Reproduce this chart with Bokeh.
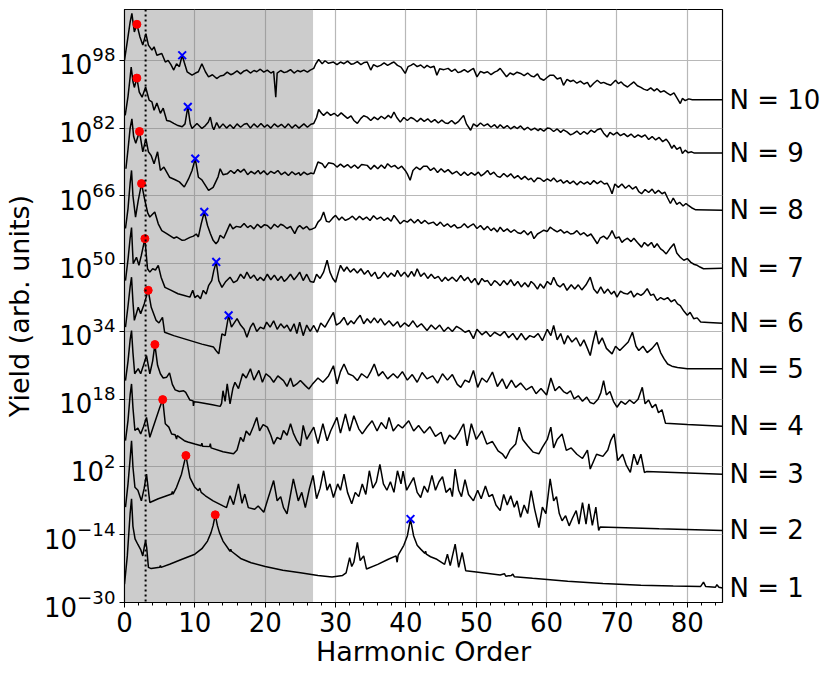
from bokeh.plotting import figure
from bokeh.models import Span, BoxAnnotation, FixedTicker, SingleIntervalTicker, Range1d, LinearAxis, LinearScale
from bokeh.embed import file_html
from bokeh.resources import INLINE

# (harmonic order, log10 yield)
N1 = [(0.0,-25.7),(0.4,-19.0),(0.8,-9.0),(1.0,-5.5),(1.2,-12.0),(1.5,-15.0),(1.9,-16.3),(2.3,-17.5),(2.6,-19.0),(2.85,-16.5),(3.0,-15.4),(3.15,-17.0),(3.4,-21.7),(3.8,-22.0),(5.0,-21.7),(5.1,-21.3),(5.2,-21.7),(6.5,-20.9),(8.0,-19.9),(10.0,-18.6),(11.0,-17.3),(11.8,-15.5),(12.3,-13.5),(12.6,-11.8),(12.9,-9.3),(13.2,-11.8),(13.5,-13.5),(14.0,-15.5),(15.0,-17.9),(15.1,-17.4),(15.2,-17.9),(16.5,-19.6),(18.0,-20.6),(20.0,-21.5),(22.5,-22.4),(25.0,-23.0),(27.5,-23.6),(29.5,-24.0),(31.0,-23.6),(31.5,-23.0),(32.0,-19.4),(32.3,-21.5),(32.6,-20.5),(33.1,-15.8),(33.5,-20.1),(34.0,-19.0),(34.4,-22.1),(36.0,-21.0),(37.5,-19.8),(38.6,-19.0),(38.75,-20.5),(38.9,-18.8),(39.7,-16.5),(40.2,-14.3),(40.65,-10.3),(41.1,-14.3),(41.6,-16.5),(42.1,-17.4),(42.7,-18.4),(42.8,-17.9),(42.9,-18.6),(43.5,-19.2),(44.4,-19.8),(45.5,-21.0),(45.9,-18.6),(46.3,-21.3),(47.0,-16.2),(47.5,-21.7),(48.0,-18.2),(48.5,-22.5),(50.0,-22.8),(53.4,-23.5),(54.0,-23.2),(54.2,-23.8),(55.0,-23.6),(55.2,-23.3),(55.4,-23.9),(58.0,-24.3),(63.0,-25.0),(68.0,-25.5),(73.4,-25.9),(78.0,-26.1),(81.9,-26.2),(82.3,-25.2),(82.6,-26.2),(84.0,-26.4),(84.2,-25.8),(84.5,-26.4),(85.0,-26.6)]

N2 = [(0.14,-7.5),(0.5,-2.0),(0.8,4.0),(1.0,8.2),(1.2,2.0),(1.48,-2.8),(1.9,-3.5),(2.4,-6.0),(2.8,-3.0),(3.13,0.3),(3.6,-6.4),(4.8,-5.5),(6.7,-4.4),(6.8,-3.8),(6.9,-4.4),(7.4,-2.8),(8.1,0.3),(8.73,4.7),(9.3,-0.5),(10.0,-2.8),(10.5,-3.6),(10.7,-3.0),(10.9,-4.0),(11.5,-4.8),(12.6,-6.0),(14.0,-7.2),(14.5,-7.6),(15.0,-4.8),(15.5,-6.9),(16.2,-2.0),(16.7,-6.6),(17.1,-4.4),(17.6,-7.6),(18.5,-8.0),(19.0,-7.2),(19.8,-8.7),(20.3,-6.0),(21.2,-1.2),(21.7,-6.0),(22.2,-5.0),(22.6,-7.6),(23.1,-9.1),(24.0,-0.8),(24.7,-6.0),(25.2,-4.0),(25.7,-7.6),(26.3,-3.0),(26.8,0.0),(27.3,-5.5),(27.8,-3.0),(28.3,1.1),(28.8,-3.5),(29.2,-2.0),(29.7,-5.2),(30.3,-2.0),(30.7,-3.5),(31.2,0.3),(31.7,-4.0),(32.3,-6.7),(32.8,-4.0),(33.3,-5.0),(33.8,-2.0),(34.3,-4.5),(34.8,1.1),(35.3,-3.0),(35.8,-1.5),(36.3,2.6),(36.8,-2.0),(37.3,-3.5),(37.8,-1.5),(38.3,-4.0),(38.8,1.1),(39.3,-2.0),(39.6,1.0),(40.1,-3.5),(40.6,-2.0),(41.1,-0.5),(41.6,-4.0),(42.1,-5.2),(42.6,-2.5),(43.1,-4.0),(43.7,0.0),(44.2,-3.5),(44.7,-1.5),(45.2,-0.3),(45.7,-4.0),(46.3,-3.0),(46.6,-5.0),(47.0,1.5),(47.5,-3.5),(47.9,-5.0),(48.4,-1.0),(48.9,-4.5),(49.6,-6.0),(50.2,-3.5),(50.7,-5.5),(51.3,-2.5),(51.8,-5.0),(52.3,-4.5),(52.8,-7.0),(53.4,-8.3),(53.9,-4.5),(54.4,-7.0),(54.9,-4.8),(55.4,-7.5),(55.8,-6.0),(56.3,-9.9),(56.8,-7.0),(57.3,-9.0),(57.8,-3.6),(58.3,-8.0),(58.9,-12.3),(59.4,-7.5),(59.9,-9.0),(60.5,-0.8),(61.0,-6.0),(61.4,-5.0),(61.8,-9.0),(62.2,-10.7),(62.7,-9.5),(63.2,-11.9),(63.7,-10.0),(64.2,-8.3),(64.6,-11.5),(65.1,-6.4),(65.6,-11.5),(66.0,-6.7),(66.5,-11.8),(67.0,-7.5),(67.4,-13.0),(67.6,-12.2),(76.0,-12.6),(85.0,-13.0)]

N3 = [(0.14,8.2),(0.5,13.0),(0.8,19.0),(1.0,21.6),(1.2,16.0),(1.48,10.6),(1.9,11.2),(2.3,9.8),(2.7,11.5),(3.13,13.7),(3.6,9.0),(4.0,11.0),(4.5,13.5),(5.0,16.0),(5.43,17.9),(5.8,12.2),(6.3,11.4),(6.7,9.8),(7.2,9.6),(7.4,8.6),(7.5,9.4),(8.5,8.2),(9.0,7.9),(10.0,7.4),(10.9,7.0),(11.0,7.6),(11.1,6.9),(12.1,6.8),(12.2,7.5),(12.3,6.5),(14.0,5.6),(15.5,5.1),(16.0,6.0),(16.5,9.0),(16.9,8.0),(17.3,10.5),(17.8,9.5),(18.3,11.5),(18.8,13.7),(19.2,10.5),(19.7,12.0),(20.3,11.4),(20.8,9.5),(21.2,7.4),(21.7,9.0),(22.2,8.5),(22.6,10.6),(23.1,9.5),(23.6,12.2),(24.0,10.0),(24.5,8.2),(25.0,7.0),(25.4,11.8),(25.9,8.5),(26.4,10.0),(26.9,11.4),(27.5,7.5),(28.2,12.2),(28.8,8.2),(29.3,10.5),(30.2,13.7),(30.7,10.0),(31.4,14.5),(32.0,10.5),(32.6,14.1),(33.3,11.0),(33.8,9.8),(34.5,11.5),(35.2,12.9),(35.9,10.5),(36.5,12.5),(37.2,11.0),(37.6,13.7),(38.2,10.5),(38.9,12.0),(39.5,11.2),(40.4,12.9),(41.1,10.5),(41.8,11.8),(42.6,10.0),(43.4,11.5),(44.2,9.2),(45.0,10.2),(45.5,7.4),(46.2,9.5),(46.9,8.5),(47.5,10.0),(48.2,12.2),(48.7,7.0),(49.3,12.2),(50.0,8.5),(50.8,10.5),(51.5,7.4),(52.3,8.0),(53.1,5.8),(53.7,5.1),(54.2,4.0),(54.8,6.0),(55.6,7.4),(56.1,11.4),(56.6,8.5),(57.3,7.0),(58.1,5.5),(58.9,5.1),(59.4,6.6),(60.1,8.5),(60.6,11.4),(61.0,6.5),(61.5,8.5),(62.2,9.8),(62.8,5.9),(63.5,6.5),(64.3,5.0),(65.1,4.0),(65.8,6.0),(66.2,1.5),(67.1,5.0),(68.0,4.5),(68.7,6.0),(69.1,8.2),(69.6,9.8),(70.1,3.5),(70.8,5.0),(71.3,2.5),(71.9,0.7),(72.4,5.0),(72.9,2.5),(73.4,5.0),(73.9,0.7),(74.2,0.9),(85.0,0.3)]

N4 = [(0.14,22.4),(0.5,27.0),(0.8,32.0),(1.0,34.2),(1.2,29.0),(1.45,24.0),(1.95,25.2),(2.3,24.0),(2.7,26.0),(3.13,28.3),(3.6,24.0),(4.0,27.0),(4.32,30.9),(4.7,26.0),(5.1,24.0),(5.5,23.0),(6.0,23.2),(6.4,24.2),(6.8,21.5),(7.2,20.2),(7.8,19.8),(8.4,20.0),(8.7,19.6),(9.3,17.8),(9.75,17.6),(9.8,16.4),(9.9,17.4),(10.5,17.3),(11.5,17.0),(12.5,16.7),(13.6,16.3),(13.8,17.0),(14.0,20.0),(14.3,17.5),(14.6,21.6),(15.0,16.9),(15.4,20.5),(15.7,22.0),(16.2,20.5),(16.8,24.0),(17.3,23.0),(17.9,25.2),(18.4,22.5),(19.1,24.8),(19.6,22.0),(20.1,24.0),(20.7,23.2),(21.2,22.0),(21.8,23.5),(22.6,22.4),(23.1,21.0),(23.6,23.0),(24.0,21.0),(24.5,21.6),(25.0,22.4),(25.7,21.2),(26.2,20.4),(26.7,21.5),(27.5,23.0),(28.2,22.0),(29.0,23.5),(29.7,25.9),(30.2,21.6),(30.7,24.5),(31.2,26.3),(31.8,24.0),(32.5,23.5),(33.1,22.4),(33.7,24.0),(34.5,23.0),(35.0,24.5),(35.5,26.3),(36.1,23.5),(36.7,24.5),(37.4,22.8),(38.2,24.0),(38.8,23.0),(39.5,24.5),(40.2,22.5),(40.9,23.8),(41.6,22.0),(42.3,24.3),(43.0,22.8),(43.8,23.5),(44.5,21.8),(45.2,24.0),(45.9,22.5),(46.6,23.8),(47.3,21.5),(47.8,20.8),(48.4,22.5),(49.0,22.0),(49.6,24.8),(50.2,20.8),(50.8,23.0),(51.5,22.0),(52.3,24.4),(53.0,21.0),(53.7,22.8),(54.3,20.5),(55.0,22.5),(55.6,20.8),(56.3,21.8),(57.1,20.2),(57.9,21.0),(58.5,19.3),(59.2,20.5),(60.0,19.0),(60.6,23.0),(61.2,20.0),(61.8,21.0),(62.4,19.8),(62.9,19.3),(63.4,20.0),(63.9,18.1),(64.5,18.8),(65.1,17.5),(65.7,18.5),(66.2,17.2),(66.7,16.9),(67.3,18.0),(67.7,19.5),(68.1,22.4),(68.5,19.0),(69.0,19.8),(69.5,17.5),(70.0,16.1),(70.6,17.5),(71.2,16.8),(71.8,17.8),(72.4,17.0),(73.0,18.0),(73.6,20.8),(74.0,16.9),(74.5,17.8),(75.0,16.0),(75.5,16.8),(75.9,14.8),(76.4,15.5),(76.9,12.3),(80.0,12.0),(85.0,11.6)]

N5 = [(0.14,35.0),(0.5,40.0),(0.8,44.5),(1.0,46.8),(1.2,41.0),(1.4,36.6),(1.95,39.7),(2.3,38.2),(2.8,40.5),(3.37,43.7),(3.8,39.7),(4.5,36.6),(4.9,36.0),(5.4,37.3),(5.7,33.8),(7.0,33.0),(9.0,32.0),(11.0,31.0),(12.66,30.3),(13.0,29.5),(13.4,28.7),(13.85,33.4),(14.3,33.0),(14.8,37.8),(15.2,35.0),(15.6,36.0),(16.0,37.0),(16.5,35.5),(17.0,34.5),(17.4,32.6),(17.9,35.0),(18.3,36.0),(18.8,34.0),(19.3,35.0),(19.8,34.6),(20.2,36.2),(20.7,35.0),(21.2,36.5),(21.7,34.5),(22.2,35.8),(22.7,34.8),(23.1,35.5),(23.6,34.0),(24.1,35.8),(24.5,33.5),(24.9,36.2),(25.4,33.0),(25.9,35.5),(26.4,34.0),(26.9,35.4),(27.4,33.8),(27.9,36.0),(28.5,35.0),(29.0,36.5),(29.7,38.5),(30.1,35.5),(30.6,36.0),(31.2,37.3),(31.7,35.5),(32.2,36.5),(32.6,35.8),(33.0,36.8),(33.5,37.8),(34.0,35.8),(34.5,37.0),(35.0,36.0),(35.5,37.2),(36.0,36.0),(36.4,37.0),(37.0,35.5),(37.6,36.5),(38.2,35.3),(38.8,36.3),(39.2,35.0),(39.8,36.0),(40.4,35.2),(41.0,36.5),(41.6,35.0),(42.2,35.8),(43.0,34.2),(43.6,35.5),(44.2,34.5),(44.8,35.5),(45.4,34.0),(46.0,35.0),(46.6,34.0),(47.2,35.2),(47.8,34.6),(48.4,33.8),(49.0,34.2),(49.6,32.3),(50.1,34.5),(50.8,33.2),(51.4,34.0),(52.0,32.8),(52.6,33.8),(53.4,33.0),(54.0,34.0),(54.6,32.5),(55.2,33.5),(55.8,32.0),(56.4,33.5),(57.0,32.0),(57.6,33.0),(58.2,32.6),(58.8,33.5),(59.4,31.8),(60.1,34.5),(60.6,33.0),(61.0,35.4),(61.5,32.0),(62.0,33.5),(62.5,31.0),(63.0,33.0),(63.6,31.5),(64.2,32.5),(64.8,30.5),(65.3,32.0),(65.8,30.0),(66.2,28.3),(66.6,31.5),(67.0,34.2),(67.4,31.0),(67.9,32.5),(68.5,30.0),(69.3,28.7),(69.8,30.5),(70.4,29.5),(71.0,30.5),(71.6,31.5),(72.2,33.8),(72.7,30.5),(73.1,29.5),(73.7,30.5),(74.3,29.0),(75.0,30.0),(75.7,31.4),(76.2,29.0),(76.7,27.5),(77.2,26.3),(77.8,25.8),(78.6,25.5),(80.0,25.2),(85.0,25.2)]

N6 = [(0.14,46.0),(0.5,51.0),(0.8,56.0),(1.0,58.5),(1.15,53.0),(1.24,50.0),(1.7,51.5),(2.05,49.6),(2.4,52.0),(2.9,55.9),(3.27,48.8),(3.6,48.0),(4.0,48.8),(4.4,48.5),(4.8,49.6),(5.2,46.8),(5.75,44.4),(6.5,43.8),(7.6,42.9),(8.5,42.5),(9.3,42.1),(9.7,43.7),(10.0,42.0),(10.4,42.5),(10.8,41.7),(11.2,43.7),(11.6,42.8),(11.95,44.8),(12.4,46.0),(12.7,48.4),(13.04,50.4),(13.4,46.0),(13.85,44.4),(14.4,45.8),(15.0,46.8),(15.5,45.5),(16.0,46.0),(16.5,47.5),(17.0,46.5),(17.4,48.0),(17.9,46.5),(18.4,47.3),(18.9,46.0),(19.3,46.8),(19.8,46.0),(20.3,47.5),(20.8,46.2),(21.3,47.3),(21.8,46.0),(22.3,47.0),(22.7,45.8),(23.1,46.4),(23.6,47.5),(24.1,46.2),(24.5,47.0),(24.9,48.0),(25.4,46.0),(25.9,47.5),(26.4,45.8),(26.9,45.6),(27.3,47.5),(27.8,46.5),(28.3,48.0),(28.8,50.8),(29.2,48.0),(29.6,46.5),(30.0,45.6),(30.4,48.0),(30.7,49.6),(31.2,48.2),(31.6,49.2),(32.1,48.0),(32.6,48.8),(33.1,47.8),(33.6,48.8),(34.1,47.5),(34.6,48.4),(35.1,47.0),(35.6,48.0),(36.0,46.5),(36.4,46.8),(36.9,48.0),(37.4,46.8),(37.9,47.8),(38.4,47.0),(38.8,48.4),(39.3,47.0),(39.8,48.0),(40.3,46.8),(40.8,48.2),(41.2,47.0),(41.6,48.8),(42.1,47.0),(42.6,47.8),(43.1,46.5),(43.6,47.5),(44.1,46.5),(44.6,47.0),(45.1,45.8),(45.6,46.8),(46.0,46.0),(46.6,46.8),(47.2,45.8),(47.8,47.2),(48.3,46.0),(48.8,46.8),(49.3,45.5),(49.8,46.5),(50.3,45.0),(50.8,46.5),(51.2,45.8),(51.6,46.0),(52.1,44.8),(52.6,46.0),(53.0,45.5),(53.4,44.8),(53.9,46.0),(54.4,45.0),(54.9,46.2),(55.4,44.8),(55.9,45.8),(56.4,44.5),(56.9,45.5),(57.4,44.5),(57.8,45.8),(58.2,45.2),(58.7,44.0),(59.1,45.2),(59.6,44.2),(60.1,45.8),(60.6,45.0),(61.0,46.8),(61.5,45.0),(61.9,44.5),(62.4,45.3),(62.9,43.7),(63.5,45.0),(64.0,44.0),(64.5,45.0),(65.0,43.8),(65.6,45.0),(66.2,46.8),(66.7,44.0),(67.2,43.0),(67.7,44.5),(68.2,43.0),(68.7,44.0),(69.2,42.8),(69.6,43.5),(70.0,42.1),(70.5,43.5),(71.0,43.0),(71.5,42.8),(72.0,43.5),(72.4,42.1),(72.9,43.0),(73.4,42.5),(73.8,43.0),(74.3,44.1),(74.8,42.5),(75.2,42.8),(75.7,41.3),(76.2,42.0),(76.7,41.5),(77.2,42.0),(77.7,41.0),(78.2,41.5),(78.6,40.5),(79.0,40.1),(79.5,38.8),(80.0,37.8),(80.4,38.5),(80.9,37.0),(81.4,37.2),(81.9,36.2),(83.0,36.1),(85.0,35.9)]

N7 = [(0.14,58.3),(0.5,63.0),(0.8,69.0),(1.0,72.0),(1.2,66.0),(1.57,61.0),(1.95,64.9),(2.42,68.9),(2.9,64.9),(3.3,62.0),(3.6,61.0),(4.3,62.2),(4.8,59.4),(5.3,57.8),(6.0,57.1),(7.0,56.0),(7.4,56.3),(8.2,55.5),(8.6,55.6),(9.3,56.2),(9.8,56.5),(10.2,57.0),(10.5,56.3),(10.9,59.4),(11.34,62.2),(11.8,59.0),(12.2,57.1),(12.6,55.5),(13.0,54.7),(13.3,55.3),(13.6,56.7),(14.1,56.0),(14.5,57.5),(15.0,59.4),(15.4,58.2),(15.9,58.8),(16.5,58.6),(17.0,59.5),(17.5,58.5),(17.9,59.0),(18.4,58.2),(18.9,59.3),(19.4,58.5),(19.9,59.2),(20.3,59.0),(20.8,58.2),(21.3,59.3),(21.8,58.6),(22.2,59.3),(22.6,59.0),(23.1,58.3),(23.6,58.8),(24.2,57.1),(24.6,58.5),(24.9,59.0),(25.4,58.2),(25.9,58.8),(26.3,58.0),(26.7,58.2),(27.1,58.5),(27.5,59.8),(27.9,60.5),(28.3,62.2),(28.7,60.0),(29.1,59.8),(29.6,60.8),(30.0,61.4),(30.5,60.3),(30.9,61.0),(31.4,60.2),(31.9,60.6),(32.4,61.2),(32.9,60.3),(33.4,61.2),(33.9,60.4),(34.4,61.0),(34.9,60.2),(35.4,61.3),(35.9,60.5),(36.4,61.0),(36.9,60.2),(37.4,60.8),(37.9,60.0),(38.3,61.4),(38.8,60.3),(39.2,59.4),(39.7,60.2),(40.2,59.8),(40.7,60.5),(41.2,59.6),(41.7,60.4),(42.2,59.5),(42.7,60.2),(43.2,59.4),(43.9,59.8),(44.4,59.0),(44.9,59.8),(45.4,58.8),(45.9,59.4),(46.4,58.6),(46.9,59.2),(47.3,58.4),(47.8,58.6),(48.3,59.4),(48.8,58.5),(49.2,59.0),(49.6,59.4),(50.1,58.3),(50.6,59.0),(51.1,58.0),(51.6,58.8),(52.1,57.8),(52.5,58.4),(53.0,57.5),(53.4,58.6),(53.9,57.6),(54.4,58.2),(54.9,57.4),(55.4,58.0),(55.9,57.3),(56.3,57.1),(56.8,57.8),(57.3,56.8),(57.8,57.6),(58.2,55.9),(58.7,57.0),(59.1,57.4),(59.6,57.9),(60.1,57.6),(60.5,58.6),(61.0,58.0),(61.5,57.5),(62.0,58.0),(62.5,57.2),(62.9,57.6),(63.4,57.0),(63.8,57.1),(64.3,57.8),(64.8,56.8),(65.3,57.3),(65.8,56.5),(66.3,57.0),(66.7,56.0),(67.2,54.7),(67.6,56.0),(68.1,56.5),(68.6,55.8),(69.0,56.8),(69.3,57.8),(69.8,56.0),(70.3,56.3),(70.7,55.0),(71.0,55.5),(71.5,56.0),(72.0,55.2),(72.4,56.0),(72.9,55.0),(73.5,53.9),(73.9,55.0),(74.4,54.2),(74.9,55.0),(75.3,53.8),(75.7,54.7),(76.2,53.5),(76.6,53.0),(77.0,52.3),(77.5,53.5),(78.1,54.7),(78.5,52.5),(79.0,51.5),(79.5,50.8),(80.0,51.2),(80.5,50.3),(81.0,49.8),(81.4,49.6),(81.8,49.2),(82.3,48.8),(85.0,48.9)]

N8 = [(0.2,72.4),(0.5,77.0),(0.8,82.0),(1.05,84.2),(1.3,80.0),(1.6,78.4),(2.13,81.2),(2.6,76.4),(3.04,79.5),(3.4,76.4),(3.8,75.5),(4.2,73.6),(4.7,76.4),(5.1,72.0),(5.6,72.8),(6.4,70.4),(7.2,69.8),(7.8,69.3),(8.5,68.1),(9.1,70.0),(9.6,72.0),(10.06,74.8),(10.5,70.4),(11.0,69.8),(11.95,67.3),(12.6,68.0),(13.3,70.5),(13.6,72.4),(14.0,71.0),(14.6,71.2),(15.1,72.0),(15.6,71.3),(16.1,72.2),(16.5,71.6),(17.0,72.3),(17.5,71.0),(18.0,71.8),(18.5,71.2),(19.0,72.0),(19.3,71.2),(19.8,71.9),(20.3,71.0),(20.8,71.8),(21.3,71.3),(21.8,72.0),(22.3,71.0),(22.8,71.6),(23.3,70.8),(23.8,71.7),(24.3,71.0),(24.8,71.5),(25.0,70.8),(25.5,71.6),(26.0,71.0),(26.5,71.4),(26.9,71.2),(27.5,74.0),(28.1,73.6),(28.5,72.6),(29.0,73.8),(29.7,73.6),(30.2,72.8),(30.7,73.5),(31.2,72.8),(31.7,73.4),(32.2,72.6),(32.7,73.3),(33.2,72.5),(33.7,73.4),(34.5,73.2),(35.0,72.3),(35.5,73.2),(36.0,72.4),(36.5,73.3),(37.0,72.5),(37.4,73.6),(37.9,72.8),(38.4,73.2),(38.9,72.4),(39.4,73.0),(39.9,72.0),(40.2,71.2),(40.6,69.7),(41.0,72.0),(41.5,72.8),(42.0,72.2),(42.5,73.0),(43.0,73.0),(43.5,72.0),(44.0,72.6),(44.5,71.5),(45.0,72.4),(45.5,71.6),(46.0,72.2),(46.6,71.2),(47.2,71.8),(47.8,70.8),(48.3,71.6),(48.8,70.8),(49.3,71.5),(49.8,70.9),(50.3,71.6),(50.7,70.7),(51.1,71.2),(51.6,72.0),(52.0,71.0),(52.5,71.6),(53.0,70.6),(53.4,70.4),(53.9,71.3),(54.4,70.5),(54.9,71.2),(55.4,70.2),(55.9,70.8),(56.4,69.9),(56.9,70.6),(57.4,69.8),(57.8,70.2),(58.2,69.3),(58.7,70.2),(59.1,70.1),(59.6,69.4),(60.1,70.0),(60.6,69.5),(61.0,70.2),(61.5,69.3),(62.0,69.8),(62.4,69.0),(62.9,69.6),(63.3,68.9),(63.8,69.5),(64.3,68.6),(64.8,69.4),(65.3,68.8),(65.8,69.3),(66.2,68.7),(66.7,69.6),(67.2,68.9),(67.7,69.5),(68.2,68.8),(68.6,69.0),(69.0,67.8),(69.3,66.5),(69.7,68.8),(70.2,68.0),(70.7,68.8),(71.2,67.8),(71.7,68.5),(72.2,67.6),(72.7,68.2),(73.1,67.0),(73.5,66.5),(74.0,67.5),(74.5,66.8),(75.0,67.6),(75.4,66.6),(75.9,67.3),(76.4,66.5),(76.8,66.9),(77.2,65.5),(77.6,64.2),(78.0,65.5),(78.5,64.0),(78.9,64.5),(79.4,63.6),(79.8,64.2),(80.1,63.8),(80.6,63.2),(81.2,62.7),(85.0,62.6)]

N9 = [(0.1,85.0),(0.5,89.5),(0.8,94.0),(0.95,96.4),(1.2,93.0),(1.4,91.6),(1.76,93.8),(2.1,90.5),(2.5,89.3),(3.0,91.7),(3.5,88.6),(3.9,88.2),(4.2,86.2),(4.6,87.9),(5.1,85.5),(5.5,86.7),(6.0,83.8),(6.5,83.6),(7.0,83.1),(7.6,82.6),(8.2,82.3),(8.6,83.0),(9.0,87.0),(9.35,83.0),(9.6,81.9),(10.3,83.1),(11.0,81.9),(11.5,82.6),(11.9,83.4),(12.2,84.6),(12.5,82.3),(12.7,81.6),(13.1,83.3),(13.5,82.0),(14.0,83.0),(14.5,82.0),(15.0,82.8),(15.5,81.9),(16.0,83.0),(16.5,82.2),(17.0,82.9),(17.4,83.1),(17.9,82.0),(18.4,83.0),(18.9,82.2),(19.4,83.1),(19.9,82.2),(20.3,82.8),(20.8,82.0),(21.3,83.0),(21.8,82.3),(22.3,82.9),(22.8,82.1),(23.3,83.0),(23.8,82.0),(24.3,82.8),(24.8,82.0),(25.0,82.3),(25.5,83.0),(26.0,82.2),(26.5,82.9),(26.9,83.1),(27.3,84.5),(27.6,86.4),(28.0,85.5),(28.3,85.0),(28.8,85.8),(29.3,85.0),(29.8,85.5),(30.3,84.8),(30.8,85.6),(31.2,85.0),(31.7,84.3),(32.2,84.9),(32.6,83.8),(33.1,83.1),(33.6,84.3),(34.0,84.9),(34.5,84.6),(35.0,83.8),(35.5,84.6),(36.0,84.0),(36.5,84.8),(37.0,84.2),(37.5,85.0),(37.9,84.4),(38.3,85.8),(38.7,84.5),(39.2,83.4),(39.7,84.5),(40.2,83.8),(40.7,84.5),(41.1,84.2),(41.6,83.5),(42.1,84.3),(42.6,83.6),(43.1,84.2),(43.6,83.4),(44.1,84.0),(44.6,83.2),(45.1,83.9),(45.6,83.2),(46.0,83.1),(46.5,83.8),(47.0,83.0),(47.5,83.6),(48.2,85.0),(48.6,83.0),(49.2,81.5),(49.6,83.0),(50.1,82.4),(50.6,83.2),(51.1,82.5),(51.6,83.0),(52.1,82.2),(52.6,82.8),(53.0,82.0),(53.4,82.8),(53.9,82.0),(54.4,82.6),(54.9,81.8),(55.4,82.4),(55.8,81.9),(56.3,82.5),(56.8,81.6),(57.3,82.2),(57.8,81.5),(58.3,82.0),(58.8,81.4),(59.1,81.9),(59.6,81.3),(60.1,82.0),(60.5,81.9),(61.0,81.2),(61.5,81.8),(62.0,81.0),(62.4,81.6),(62.9,81.1),(63.4,80.4),(63.8,80.7),(64.3,81.3),(64.8,80.5),(65.3,81.2),(65.8,80.6),(66.3,81.5),(66.8,81.0),(67.2,81.6),(67.7,81.9),(68.1,80.8),(68.6,79.9),(69.0,81.0),(69.5,80.4),(70.0,81.0),(70.5,80.2),(71.0,80.7),(71.5,80.0),(72.0,80.6),(72.5,79.8),(73.0,80.4),(73.5,79.9),(74.0,80.4),(74.5,79.3),(75.0,80.0),(75.5,79.2),(76.0,79.8),(76.5,78.8),(77.0,79.4),(77.4,78.5),(77.8,77.2),(78.1,78.0),(78.5,77.0),(79.0,77.5),(79.3,76.0),(79.7,76.8),(80.1,76.2),(80.6,76.4),(81.0,76.1),(85.0,76.1)]

N10 = [(0.0,98.0),(0.4,102.5),(0.8,107.0),(1.05,109.1),(1.25,106.5),(1.4,104.7),(1.76,106.5),(2.2,103.5),(2.6,101.6),(3.04,104.3),(3.4,101.6),(3.9,100.4),(4.2,101.2),(4.6,99.2),(5.3,99.6),(5.8,97.6),(6.2,98.0),(6.6,97.0),(7.0,95.7),(7.4,97.2),(7.8,96.5),(8.2,99.2),(8.5,97.5),(8.9,95.3),(9.6,94.5),(10.1,95.0),(10.5,95.3),(11.0,97.2),(11.5,95.3),(11.95,94.1),(12.5,94.6),(13.1,93.7),(13.6,94.3),(14.1,94.5),(14.6,95.2),(15.1,94.6),(15.5,94.9),(16.0,95.5),(16.5,94.8),(17.0,95.5),(17.4,95.7),(17.9,95.0),(18.4,95.6),(18.8,95.3),(19.3,95.9),(19.8,95.2),(20.3,95.7),(20.8,95.0),(21.2,95.4),(21.5,89.3),(21.7,95.0),(22.2,95.6),(22.7,95.1),(23.1,95.3),(23.6,95.8),(24.1,95.0),(24.6,95.6),(25.0,95.3),(25.5,95.7),(26.0,95.2),(26.4,95.7),(26.9,96.1),(27.2,97.2),(27.6,98.2),(28.1,97.2),(28.5,97.9),(29.0,97.3),(29.7,97.6),(30.2,97.0),(30.7,97.6),(31.2,97.2),(31.7,97.8),(32.2,97.1),(32.6,97.2),(33.1,97.7),(33.6,97.0),(34.1,97.5),(34.5,97.6),(35.0,95.7),(35.4,97.0),(35.9,96.5),(36.4,96.8),(36.9,97.4),(37.4,96.8),(37.9,97.3),(38.3,97.6),(38.8,96.8),(39.3,96.4),(39.9,94.9),(40.3,96.5),(40.7,96.8),(41.1,97.2),(41.6,96.5),(42.1,96.9),(42.6,96.2),(43.0,96.8),(43.5,96.3),(44.0,96.6),(44.4,94.5),(44.8,96.0),(45.4,95.8),(46.0,96.1),(46.5,95.4),(47.0,95.9),(47.4,95.1),(47.8,95.3),(48.3,95.8),(48.8,95.2),(49.2,95.7),(49.6,96.1),(50.1,94.1),(50.6,95.4),(51.1,95.0),(51.6,95.3),(52.1,94.6),(52.6,95.2),(53.0,95.5),(53.4,96.1),(53.9,95.0),(54.3,94.1),(54.8,95.0),(55.3,94.6),(55.8,95.2),(56.3,94.9),(56.8,94.4),(57.3,95.0),(57.8,94.3),(58.2,94.1),(58.7,94.8),(59.1,93.7),(59.6,93.3),(60.1,94.0),(60.5,94.5),(61.0,94.5),(61.5,93.6),(62.0,93.9),(62.4,92.1),(62.9,93.5),(63.4,93.0),(63.8,93.3),(64.3,92.6),(64.8,93.1),(65.3,92.4),(65.8,92.8),(66.2,91.7),(66.7,92.6),(67.2,93.3),(67.7,92.6),(68.1,92.8),(68.6,92.4),(69.1,92.1),(69.8,93.3),(70.2,92.5),(70.6,92.9),(71.0,92.2),(71.5,91.7),(72.0,92.4),(72.4,92.9),(72.9,92.0),(73.4,91.6),(73.8,91.2),(74.3,90.9),(74.8,91.5),(75.3,90.8),(75.7,91.3),(76.2,90.5),(76.7,90.8),(77.1,90.3),(77.6,89.8),(78.1,90.3),(78.5,89.2),(79.0,87.8),(79.3,89.0),(79.7,88.5),(80.2,88.9),(80.7,88.7),(85.0,88.7)]

spectra = [(1, N1), (2, N2), (3, N3), (4, N4), (5, N5), (6, N6), (7, N7), (8, N8), (9, N9), (10, N10)]

red_dot_x = [12.9, 8.73, 5.43, 4.32, 3.37, 2.90, 2.42, 2.13, 1.76, 1.76]
red_dot_logy = [-9.3, 4.7, 17.9, 30.9, 43.7, 55.9, 68.9, 81.2, 93.8, 106.5]
blue_x_x = [40.65, 14.8, 13.04, 11.34, 10.06, 9.0, 8.2]
blue_x_logy = [-10.3, 37.8, 50.4, 62.2, 74.8, 87.0, 99.2]

ytick_exponents = [-30, -14, 2, 18, 34, 50, 66, 82, 98]
y_limits_exp = (-30, 110)
x_limits = (0, 85)
driving_order = 3
shaded_end = 26.8

FONT = "DejaVu Sans"

p = figure(width=830, height=676, x_range=x_limits,
           y_range=(10.0 ** y_limits_exp[0], 10.0 ** y_limits_exp[1]),
           y_axis_type="log", output_backend="svg", toolbar_location=None,
           min_border_left=124, min_border_right=108, min_border_top=9, min_border_bottom=74)
p.outline_line_color = "black"
p.outline_line_width = 1.2
p.outline_line_alpha = 1.0

shade = BoxAnnotation(left=0, right=shaded_end, fill_color="gray", fill_alpha=0.4,
                      line_color=None, level="underlay")
p.add_layout(shade)

for n, pairs in spectra:
    xs = [a for a, b in pairs]
    ys = [10.0 ** b for a, b in pairs]
    p.line(xs, ys, line_color="black", line_width=1.5)

p.add_layout(Span(location=driving_order, dimension="height", line_color="black",
                  line_width=2, line_dash="2 3"))

p.scatter(red_dot_x, [10.0 ** v for v in red_dot_logy], marker="circle", size=8,
          fill_color="red", line_color="red")
p.scatter(blue_x_x, [10.0 ** v for v in blue_x_logy], marker="x", size=11,
          line_color="blue", line_width=2)

# right-hand "N = k" labels, placed at each spectrum's final level (linear in the exponent)
p.extra_y_ranges = {"labels": Range1d(*y_limits_exp)}
p.extra_y_scales = {"labels": LinearScale()}
label_ticks = [pairs[-1][1] for n, pairs in spectra]
label_axis = LinearAxis(y_range_name="labels", ticker=FixedTicker(ticks=label_ticks),
                        major_label_overrides={pairs[-1][1]: f"N = {n}" for n, pairs in spectra})
label_axis.axis_line_color = None
label_axis.major_tick_line_color = None
label_axis.minor_tick_line_color = None
label_axis.major_tick_out = 0
label_axis.major_tick_in = 0
label_axis.major_label_standoff = 7
label_axis.major_label_text_font = FONT
label_axis.major_label_text_font_size = "26px"
label_axis.major_label_text_color = "black"
p.add_layout(label_axis, "right")

p.xaxis[0].ticker = SingleIntervalTicker(interval=10, num_minor_ticks=5)
p.yaxis[0].ticker = FixedTicker(ticks=[10.0 ** e for e in ytick_exponents])
p.xaxis[0].axis_label = "Harmonic Order"
p.yaxis[0].axis_label = "Yield (arb. units)"
for ax in (p.xaxis[0], p.yaxis[0]):
    ax.axis_label_text_font = FONT
    ax.axis_label_text_font_size = "27px"
    ax.axis_label_text_font_style = "normal"
    ax.axis_label_text_color = "black"
    ax.major_label_text_font = FONT
    ax.major_label_text_font_size = "26px"
    ax.major_label_text_color = "black"
    ax.axis_line_color = "black"
    ax.major_tick_line_color = "black"
    ax.minor_tick_line_color = "black"
    ax.major_tick_in = 0
    ax.major_tick_out = 5
    ax.minor_tick_in = 0
    ax.minor_tick_out = 3
    ax.axis_label_standoff = 6
    ax.major_label_standoff = 4
p.xaxis[0].axis_label_standoff = 1
p.yaxis[0].minor_tick_line_color = None

p.xgrid.grid_line_color = "#b8b8b8"
p.ygrid.grid_line_color = "#b8b8b8"
p.xgrid.grid_line_width = 1.2
p.ygrid.grid_line_width = 1.2

open("out.html", "w").write(file_html(p, INLINE))
